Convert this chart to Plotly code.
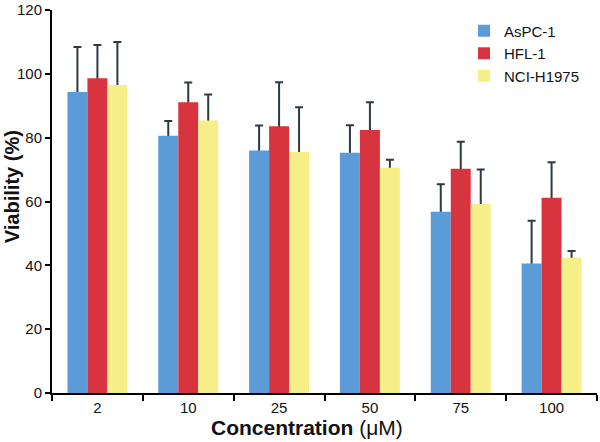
import plotly.graph_objects as go

# concentrations (uM) and mean viability (%) with upper error bars
concentrations = ["2", "10", "25", "50", "75", "100"]
series_names = ["AsPC-1", "HFL-1", "NCI-H1975"]

aspc1 = [94.3, 80.6, 76.0, 75.3, 56.8, 40.6]
aspc1_top = [108.4, 85.2, 83.8, 83.9, 65.4, 54.0]

hfl1 = [98.6, 91.1, 83.6, 82.4, 70.3, 61.2]
hfl1_top = [109.0, 97.3, 97.4, 91.1, 78.7, 72.3]

nci_h1975 = [96.5, 85.4, 75.5, 70.6, 59.2, 42.4]
nci_h1975_top = [110.0, 93.5, 89.5, 73.1, 70.0, 44.5]

colors = ["#5b9bd8", "#d8343f", "#f6ee89"]
ERR_COLOR = "#2e3a42"
FONT = "Liberation Sans, Arial, Helvetica, sans-serif"

fig = go.Figure()
groups = list(zip(
    series_names,
    [aspc1, hfl1, nci_h1975],
    [aspc1_top, hfl1_top, nci_h1975_top],
    colors,
))

# error bars first (transparent bars), so the real bars hide the lower caps
for i, (name, vals, tops, color) in enumerate(groups):
    fig.add_trace(
        go.Bar(
            x=concentrations,
            y=vals,
            offsetgroup=str(i),
            showlegend=False,
            hoverinfo="skip",
            marker={"color": "rgba(0,0,0,0)", "line": {"width": 0}},
            error_y={
                "type": "data",
                "symmetric": False,
                "array": [t - v for t, v in zip(tops, vals)],
                "arrayminus": [1.5] * len(vals),
                "color": ERR_COLOR,
                "thickness": 2,
                "width": 4,
            },
        )
    )

for i, (name, vals, tops, color) in enumerate(groups):
    fig.add_trace(
        go.Bar(
            x=concentrations,
            y=vals,
            name=name,
            offsetgroup=str(i),
            marker={"color": color, "line": {"width": 0}},
        )
    )

fig.update_layout(
    width=600,
    height=442,
    margin={"l": 52, "r": 3, "t": 10, "b": 49},
    paper_bgcolor="white",
    plot_bgcolor="white",
    barmode="group",
    bargap=0.34,
    bargroupgap=0,
    font={"family": FONT, "size": 15, "color": "#111111"},
    legend={
        "x": 0.756,
        "y": 0.988,
        "xanchor": "left",
        "yanchor": "top",
        "font": {"size": 15, "color": "#111111"},
        "bgcolor": "rgba(0,0,0,0)",
        "itemwidth": 30,
        "tracegroupgap": 0,
    },
    xaxis={
        "type": "category",
        "automargin": False,
        "showline": True,
        "linecolor": "black",
        "linewidth": 2,
        "ticks": "outside",
        "tickson": "boundaries",
        "ticklen": 6,
        "tickwidth": 2,
        "tickcolor": "black",
        "showgrid": False,
        "tickfont": {"size": 15},
    },
    yaxis={
        "range": [0, 120],
        "dtick": 20,
        "automargin": False,
        "showline": True,
        "linecolor": "black",
        "linewidth": 2,
        "ticks": "outside",
        "ticklen": 5,
        "tickwidth": 2,
        "tickcolor": "black",
        "showgrid": False,
        "zeroline": False,
        "tickfont": {"size": 15},
    },
    annotations=[
        {
            "text": "<b>Concentration</b> (μM)",
            "x": 0.468,
            "y": -0.091,
            "xref": "paper",
            "yref": "paper",
            "xanchor": "center",
            "yanchor": "middle",
            "showarrow": False,
            "font": {"size": 21},
        },
        {
            "text": "<b>Viability (%)</b>",
            "x": -0.073,
            "y": 0.538,
            "xref": "paper",
            "yref": "paper",
            "xanchor": "center",
            "yanchor": "middle",
            "textangle": -90,
            "showarrow": False,
            "font": {"size": 20},
        },
    ],
)

# drop the browser's default 8px body margin so the figure fills the window
fig.write_html(
    "out.html",
    config={"displayModeBar": False},
    post_script="document.body.style.margin = '0';",
)
